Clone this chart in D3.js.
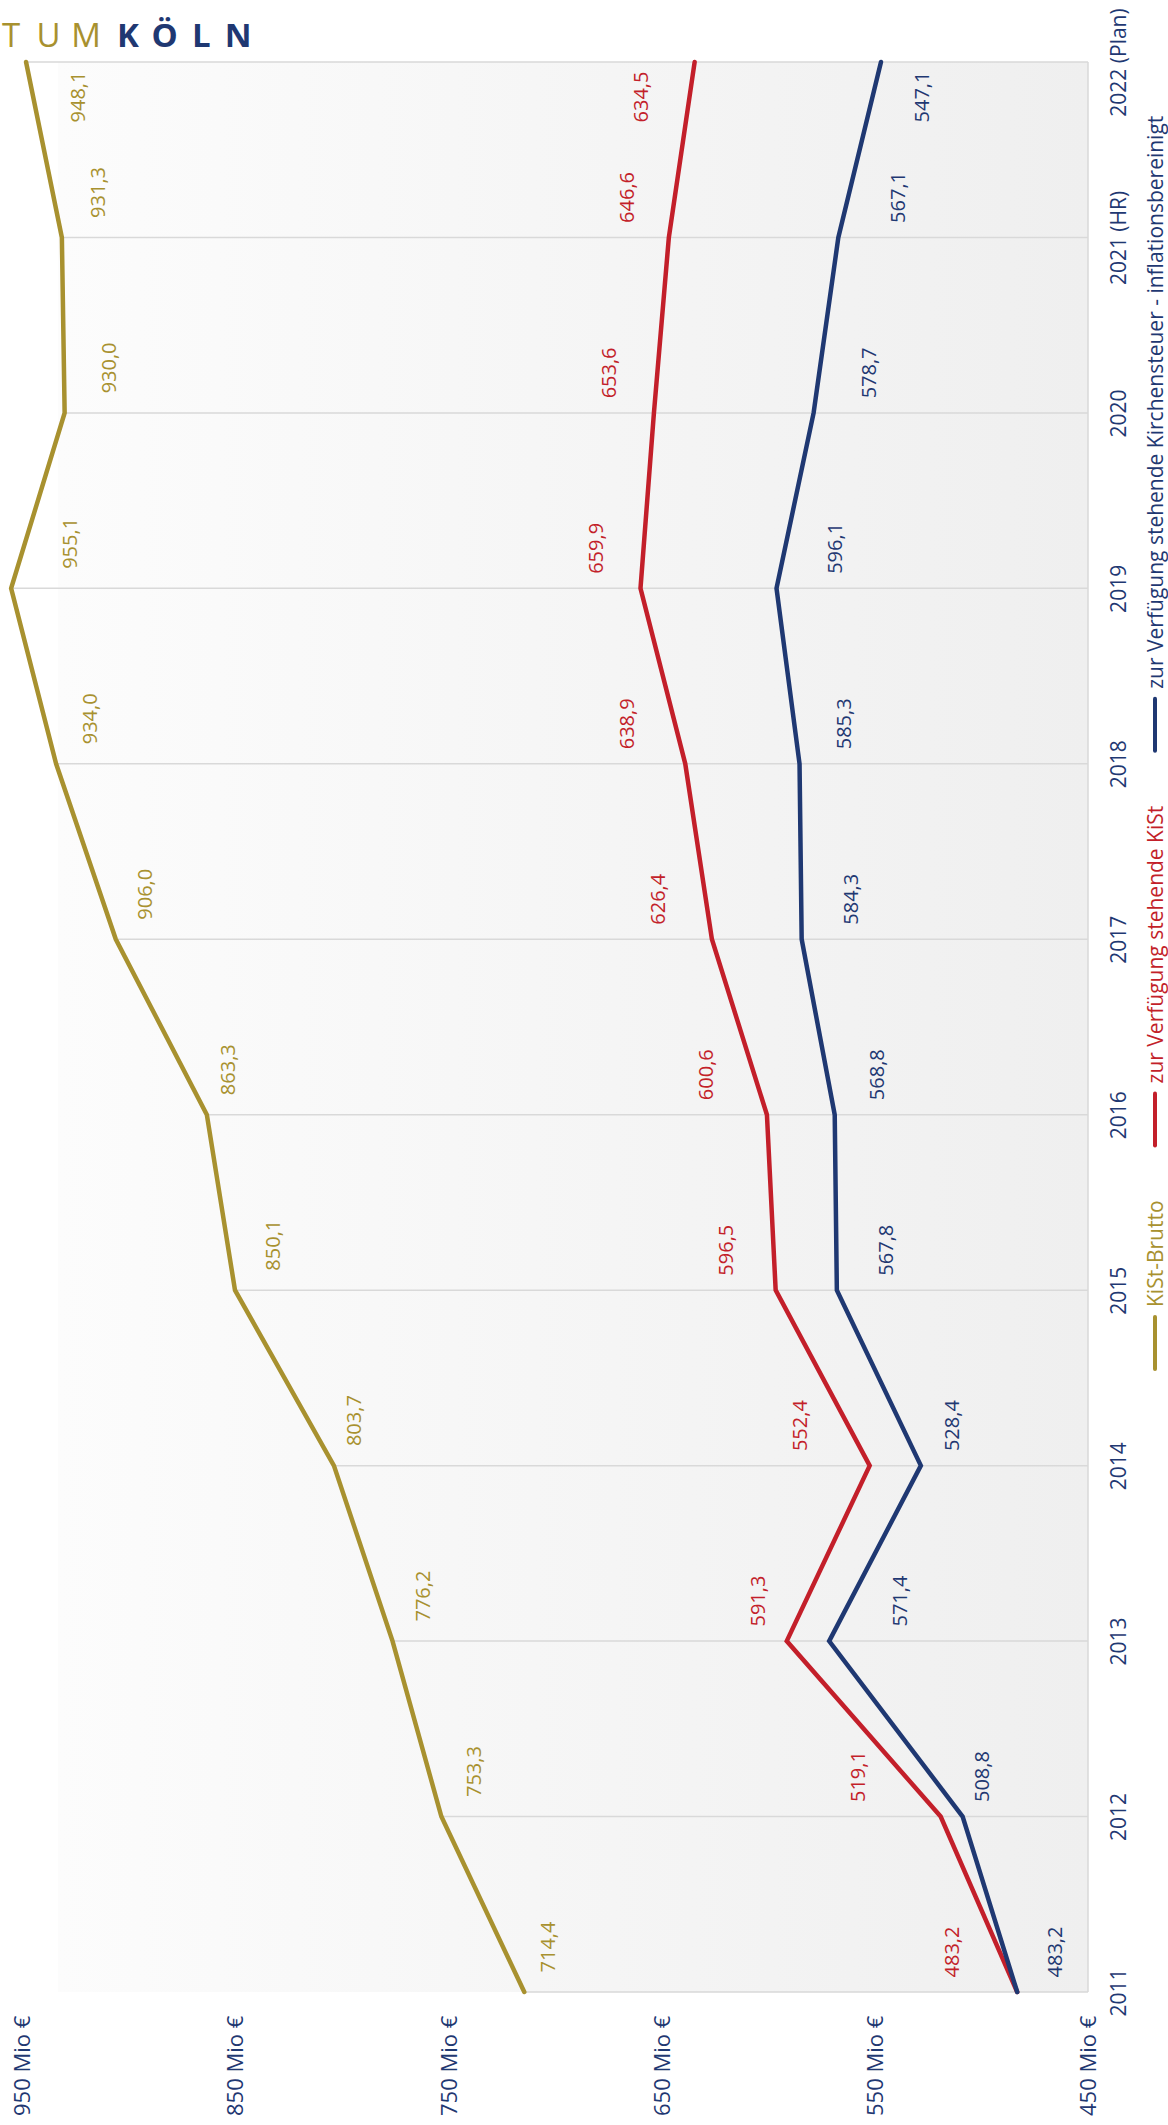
<!DOCTYPE html>
<html>
<head>
<meta charset="utf-8">
<script src="https://cdn.jsdelivr.net/npm/d3@7"></script>
<style>
  body { margin: 0; background: #fff; }
  text { font-family: "Open Sans", "Noto Sans", sans-serif; }
</style>
</head>
<body>
<div id="chart"></div>
<script>
// data
var years = ['2011', '2012', '2013', '2014', '2015', '2016', '2017', '2018', '2019', '2020', '2021 (HR)', '2022 (Plan)'];
var kistBrutto = [714.4, 753.3, 776.2, 803.7, 850.1, 863.3, 906.0, 934.0, 955.1, 930.0, 931.3, 948.1];
var kistVerfuegbar = [483.2, 519.1, 591.3, 552.4, 596.5, 600.6, 626.4, 638.9, 659.9, 653.6, 646.6, 634.5];
var kistInflation = [483.2, 508.8, 571.4, 528.4, 567.8, 568.8, 584.3, 585.3, 596.1, 578.7, 567.1, 547.1];
var valueTicks = [450, 550, 650, 750, 850, 950];
var seriesNames = ['KiSt-Brutto', 'zur Verfügung stehende KiSt', 'zur Verfügung stehende Kirchensteuer - inflationsbereinigt'];

var gold = '#a8912f', red = '#c31f2a', navy = '#1f3872';

var svgWidth = 1168,
	svgHeight = 2125;

// plot area (chart is drawn turned by -90 degrees)
var plot = { left: 58, right: 1088, top: 62, bottom: 1992 };

var svg = d3.select('#chart')
	.append('svg')
	.attr('width', svgWidth)
	.attr('height', svgHeight);

// scales: values run right to left, years bottom to top
var vScale = d3.scaleLinear()
	.domain([450, 950])
	.range([plot.right, 22]);

var yearScale = d3.scalePoint()
	.domain(years)
	.range([plot.bottom, plot.top]);

var de = d3.formatLocale({ decimal: ',', thousands: '.', grouping: [3], currency: ['', ' €'] });
var fmt = de.format('.1f');

// background gradient
var grad = svg.append('defs').append('linearGradient')
	.attr('id', 'bg')
	.attr('x1', '0%').attr('x2', '100%');
grad.append('stop').attr('offset', '0%').attr('stop-color', '#fcfcfc');
grad.append('stop').attr('offset', '100%').attr('stop-color', '#efefef');

svg.append('rect')
	.attr('x', plot.left)
	.attr('y', plot.top)
	.attr('width', plot.right - plot.left)
	.attr('height', plot.bottom - plot.top)
	.attr('fill', 'url(#bg)');

// drop lines from the highest point to the axis
var maxByYear = years.map((y, i) => Math.max(kistBrutto[i], kistVerfuegbar[i], kistInflation[i]));
svg.append('g').selectAll('line')
	.data(years)
	.enter()
	.append('line')
	.attr('x1', (d, i) => vScale(maxByYear[i]))
	.attr('x2', vScale(450))
	.attr('y1', d => yearScale(d))
	.attr('y2', d => yearScale(d))
	.attr('stroke', '#d9d9d9')
	.attr('stroke-width', 1.5);

// axis line (right side)
svg.append('line')
	.attr('x1', vScale(450)).attr('x2', vScale(450))
	.attr('y1', plot.top).attr('y2', plot.bottom)
	.attr('stroke', '#d9d9d9')
	.attr('stroke-width', 1.5);

// value axis at the bottom
var vAxis = svg.append('g')
	.attr('transform', `translate(0,2116)`)
	.call(d3.axisBottom(vScale).tickValues(valueTicks).tickSize(0).tickFormat(d => d + ' Mio €'));
vAxis.select('.domain').remove();
vAxis.selectAll('text')
	.attr('x', 0).attr('y', 0).attr('dy', '0.35em')
	.attr('transform', 'rotate(-90)')
	.attr('text-anchor', 'start')
	.attr('fill', navy)
	.style('font-size', '22px')
	.style('font-family', '"Open Sans", sans-serif');

// year axis on the right
var yAxis = svg.append('g')
	.attr('transform', `translate(1119,0)`)
	.call(d3.axisRight(yearScale).tickSize(0));
yAxis.select('.domain').remove();
yAxis.selectAll('text')
	.attr('x', 0).attr('y', 0).attr('dy', '0.35em')
	.attr('transform', 'rotate(-90)')
	.attr('text-anchor', 'middle')
	.attr('fill', navy)
	.style('font-size', '21px')
	.style('font-family', '"Open Sans", sans-serif');

// series (gap = distance of the label from its line, dy = shift along the years)
var series = [
	{ name: seriesNames[0], values: kistBrutto, color: gold, gap: 45, dy: -45 },
	{ name: seriesNames[1], values: kistVerfuegbar, color: red, gap: -48, dy: -40 },
	{ name: seriesNames[2], values: kistInflation, color: navy, gap: 50, dy: -40 }
];

var line = d3.line()
	.x(d => vScale(d.v))
	.y(d => yearScale(d.year));

// label sits beside the line, a bit towards the next year
function labelPos(s, i) {
	var n = years.length,
		px = vScale(s.values[i]),
		py = yearScale(years[i]),
		cy = py + s.dy,
		j = i + 1;
	if (i === n - 1 || cy - 27 < plot.top) {
		cy = py + 35;
		j = i - 1;
	}
	var qy = yearScale(years[j]),
		t = Math.abs(cy - py) / Math.abs(qy - py),
		lx = px + t * (vScale(s.values[j]) - px);
	return [lx + s.gap, cy];
}

series.forEach(s => {
	var pts = years.map((y, i) => ({ year: y, v: s.values[i], i: i }));

	svg.append('path')
		.datum(pts)
		.attr('d', line)
		.attr('fill', 'none')
		.attr('stroke', s.color)
		.attr('stroke-width', 4.5)
		.attr('stroke-linejoin', 'miter')
		.attr('stroke-linecap', 'round');

	// data labels
	svg.append('g').selectAll('text')
		.data(pts)
		.enter()
		.append('text')
		.attr('transform', d => {
			var p = labelPos(s, d.i);
			return `translate(${p[0]},${p[1]})rotate(-90)`;
		})
		.attr('text-anchor', 'middle')
		.attr('dy', '0.35em')
		.attr('fill', s.color)
		.style('font-size', '20px')
		.text(d => fmt(d.v));
});

// legend, reading bottom to top
var legend = svg.append('g');
var ly = 1369;
series.forEach(s => {
	legend.append('line')
		.attr('x1', 1155).attr('x2', 1155)
		.attr('y1', ly).attr('y2', ly - 52)
		.attr('stroke', s.color)
		.attr('stroke-width', 4)
		.attr('stroke-linecap', 'round');
	ly -= 62;
	var t = legend.append('text')
		.attr('transform', `translate(1163,${ly})rotate(-90)`)
		.attr('text-anchor', 'start')
		.attr('fill', s.color)
		.style('font-size', '21px')
		.text(s.name);
	ly -= t.node().getComputedTextLength() + 55;
});

// logo fragment at the top left
var logo = svg.append('g');
['T', 'U', 'M'].forEach((c, i) => {
	logo.append('text')
		.attr('x', 11 + i * 37.5).attr('y', 47)
		.attr('text-anchor', 'middle')
		.attr('fill', gold)
		.style('font-size', '33px')
		.text(c);
});
['K', 'Ö', 'L', 'N'].forEach((c, i) => {
	logo.append('text')
		.attr('x', 128 + i * 36.7).attr('y', 47)
		.attr('text-anchor', 'middle')
		.attr('fill', navy)
		.style('font-size', '33px')
		.style('font-weight', 'bold')
		.text(c);
});
</script>
</body>
</html>
